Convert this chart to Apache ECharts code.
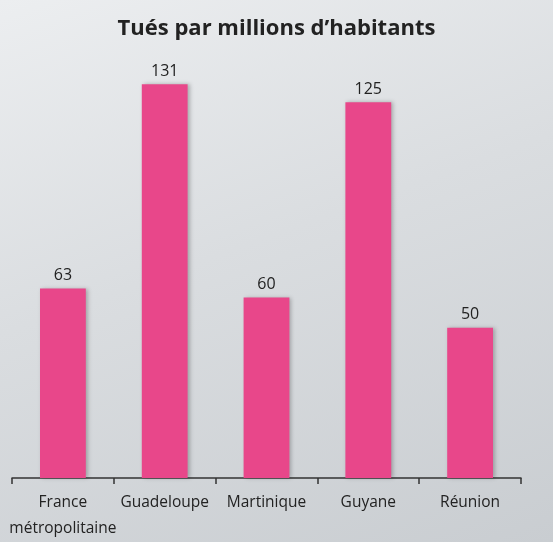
<!DOCTYPE html>
<html>
<head>
<meta charset="utf-8">
<script src="https://cdn.jsdelivr.net/npm/echarts@6/dist/echarts.min.js"></script>
<style>
  html, body { margin: 0; padding: 0; }
  #chart {
    width: 553px;
    height: 542px;
    background: linear-gradient(160deg, #eceef0 0%, #dadde0 45%, #c9cdd1 100%);
  }
</style>
</head>
<body>
<div id="chart"></div>
<script>
const categories = ['France\nmétropolitaine', 'Guadeloupe', 'Martinique', 'Guyane', 'Réunion']
const values = [63, 131, 60, 125, 50]

const chart = echarts.init(document.getElementById('chart'))

chart.setOption({
  backgroundColor: 'transparent',
  title: {
    text: 'Tués par millions d\u2019habitants',
    left: 'center',
    top: 13,
    textStyle: {
      fontFamily: 'Open Sans, sans-serif',
      fontSize: 22,
      fontWeight: 'bold',
      color: '#222'
    }
  },
  grid: {
    left: 12,
    right: 32,
    top: 27,
    bottom: 61
  },
  xAxis: {
    type: 'category',
    data: categories,
    axisLine: { lineStyle: { color: '#333', width: 1.5 } },
    axisTick: { show: true, length: 6, lineStyle: { color: '#333', width: 1.5 } },
    axisLabel: {
      color: '#222',
      fontSize: 15.5,
      fontFamily: 'Open Sans, sans-serif',
      margin: 12,
      lineHeight: 26,
      interval: 0
    }
  },
  yAxis: {
    type: 'value',
    min: 0,
    max: 150,
    show: false,
    splitLine: { show: false }
  },
  series: [
    {
      type: 'bar',
      data: values,
      barWidth: '45%',
      itemStyle: {
        color: '#e8478a',
        shadowColor: 'rgba(0,0,0,0.25)',
        shadowBlur: 4,
        shadowOffsetX: 2
      },
      label: {
        show: true,
        position: 'top',
        distance: 5,
        color: '#222',
        fontSize: 16,
        fontFamily: 'Open Sans, sans-serif'
      }
    }
  ],
  animation: false
})
</script>
</body>
</html>
